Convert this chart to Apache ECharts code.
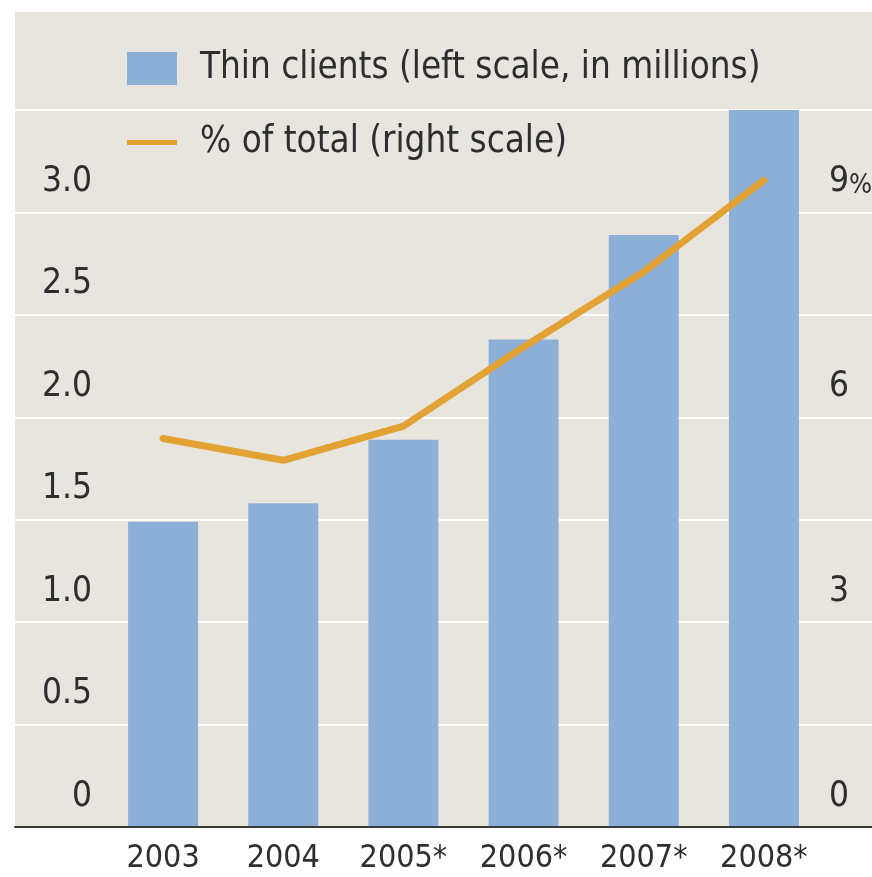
<!DOCTYPE html>
<html>
<head>
<meta charset="utf-8">
<script src="https://cdn.jsdelivr.net/npm/echarts@6/dist/echarts.min.js"></script>
<style>
  html, body { margin: 0; padding: 0; background: #ffffff; overflow: hidden; }
  #chart { width: 872px; height: 877px; }
</style>
</head>
<body>
<div id="chart"></div>
<script>
// Years shown on the category axis (* = forecast)
const years = ['2003', '2004', '2005*', '2006*', '2007*', '2008*'];
// Thin clients shipped, millions (left scale)
const thinClients = [1.49, 1.58, 1.89, 2.38, 2.89, 3.5];
// Thin clients as % of total (right scale)
const shareOfTotal = [5.69, 5.37, 5.87, 7.03, 8.13, 9.47];
// Left and right tick labels
const leftTicks = [0, 0.5, 1, 1.5, 2, 2.5, 3];
const rightTicks = [0, 3, 6, 9];

const FONT = '"Liberation Sans Narrow", "DejaVu Sans Condensed", sans-serif';
const TEXT = '#2e2e2e';
const BAR = '#8db0d8';
const LINE = '#e2a334';
const PANEL = '#e8e5de';

const chart = echarts.init(document.getElementById('chart'), null, { renderer: 'canvas' });

chart.setOption({
  backgroundColor: '#ffffff',
  animation: false,
  graphic: {
    elements: [{
      type: 'rect',
      z: -10,
      shape: { x: 15, y: 12, width: 857, height: 815 },
      style: { fill: PANEL }
    }]
  },
  legend: {
    orient: 'vertical',
    left: 122,
    top: 45,
    itemWidth: 50,
    itemHeight: 33,
    itemGap: 37,
    symbolKeepAspect: true,
    textStyle: { fontFamily: FONT, fontSize: 36.5, color: TEXT, padding: [0, 0, 0, 18] },
    data: [
      { name: 'Thin clients (left scale, in millions)', icon: 'rect' },
      { name: '% of total (right scale)', icon: 'path://M0,0h50v5h-50z' }
    ]
  },
  grid: [
    // plot area for the bars and line
    { left: 103, right: 48, top: 110, bottom: 50, outerBoundsMode: 'none' },
    // full-width band that carries the gridlines and baseline
    { left: 15, right: 0, top: 110, bottom: 50, outerBoundsMode: 'none' }
  ],
  xAxis: [
    {
      type: 'category',
      gridIndex: 0,
      data: years,
      axisLine: { show: false },
      axisTick: { show: false },
      axisLabel: { fontFamily: FONT, fontSize: 32, color: TEXT, margin: 16, interval: 0 }
    },
    {
      type: 'value',
      gridIndex: 1,
      min: 0, max: 1,
      z: 5,
      axisLine: { show: true, lineStyle: { color: '#3a3a3a', width: 2 } },
      axisTick: { show: false },
      axisLabel: { show: false },
      splitLine: { show: false }
    }
  ],
  yAxis: [
    {
      type: 'value',
      gridIndex: 0,
      min: 0, max: 3.5, interval: 0.5,
      position: 'left',
      axisLine: { show: false },
      axisTick: { show: false },
      splitLine: { show: false },
      axisLabel: {
        fontFamily: FONT, fontSize: 35, color: TEXT, margin: 11,
        verticalAlign: 'bottom', lineHeight: 35, padding: [0, 0, 13, 0],
        formatter: v => (leftTicks.indexOf(v) < 0 ? '' : (v === 0 ? '0' : v.toFixed(1)))
      }
    },
    {
      type: 'value',
      gridIndex: 0,
      min: 0, max: 10.5, interval: 3,
      position: 'right',
      axisLine: { show: false },
      axisTick: { show: false },
      splitLine: { show: false },
      axisLabel: {
        fontFamily: FONT, fontSize: 35, color: TEXT, margin: 5,
        verticalAlign: 'bottom', lineHeight: 35, padding: [0, 0, 13, 0],
        formatter: v => (rightTicks.indexOf(v) < 0 ? '' : (v === 9 ? v + '{pct|%}' : String(v))),
        rich: {
          pct: { fontFamily: FONT, fontSize: 27, color: TEXT, verticalAlign: 'bottom', lineHeight: 35 }
        }
      }
    },
    {
      type: 'value',
      gridIndex: 1,
      min: 0, max: 3.5, interval: 0.5,
      axisLine: { show: false },
      axisTick: { show: false },
      axisLabel: { show: false },
      splitLine: { show: true, lineStyle: { color: '#ffffff', width: 2 } }
    }
  ],
  series: [
    {
      name: 'Thin clients (left scale, in millions)',
      type: 'bar',
      xAxisIndex: 0,
      yAxisIndex: 0,
      data: thinClients,
      barWidth: 70,
      itemStyle: { color: BAR }
    },
    {
      name: '% of total (right scale)',
      type: 'line',
      xAxisIndex: 0,
      yAxisIndex: 1,
      data: shareOfTotal,
      showSymbol: false,
      symbol: 'none',
      lineStyle: { color: LINE, width: 7, cap: 'round', join: 'round' },
      itemStyle: { color: LINE },
      z: 4
    }
  ]
});
</script>
</body>
</html>
